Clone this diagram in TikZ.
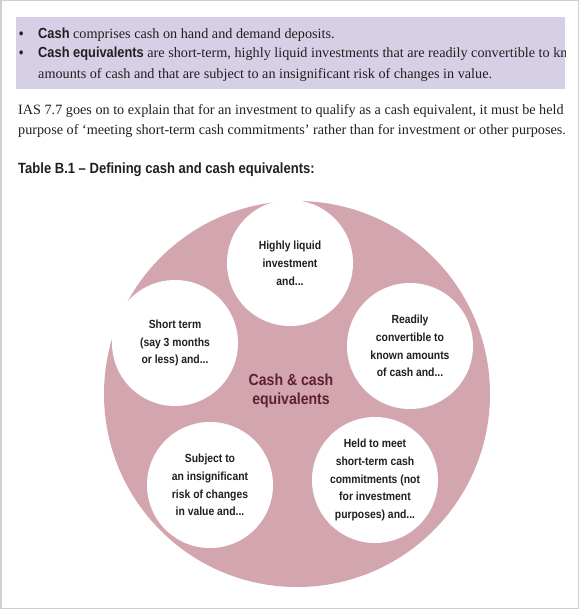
\documentclass[tikz,border=0pt]{standalone}
\usepackage{fontspec}
\setmainfont{Liberation Serif}
\newfontfamily\cond[FakeStretch=0.88]{Liberation Sans}
\definecolor{boxlav}{RGB}{213,208,230}
\definecolor{bigpink}{RGB}{211,166,175}
\definecolor{maroon}{RGB}{92,32,50}
\definecolor{framegray}{RGB}{208,208,208}
\definecolor{txt}{RGB}{35,31,32}
\tikzset{
  bodytext/.style={anchor=base west, inner sep=0pt, text=txt, font=\fontsize{14.2}{16}\selectfont},
  bulletmark/.style={anchor=base west, inner sep=0pt, text=txt, font=\cond\bfseries\fontsize{14}{16}\selectfont},
  smallcirc/.style={circle, fill=white, minimum size=126pt, inner sep=0pt, align=center, text=txt,
    font=\cond\bfseries\fontsize{11.8}{17.8}\selectfont},
}
\begin{document}
\begin{tikzpicture}[x=1pt,y=-1pt]
\useasboundingbox (0,0) rectangle (580,610);
\fill[white] (0,0) rectangle (580,610);
\draw[framegray, line width=1.5pt] (0.75,0.75) rectangle (578.25,608.25);
% lavender box
\fill[boxlav] (16,17) rectangle (565,89);
\begin{scope}
\clip (16,17) rectangle (565,89);
\node[bulletmark] (b1) at (19,38) {\textbullet};
\node[bodytext] (t1) at (38,38) {{\cond\bfseries\fontsize{14.6}{16}\selectfont Cash} comprises cash on hand and demand deposits.};
\node[bulletmark] (b2) at (19,58) {\textbullet};
\node[bodytext] (t2) at (38,58) {{\cond\bfseries\fontsize{14.6}{16}\selectfont Cash equivalents} are short-term, highly liquid investments that are readily convertible to known};
\node[bodytext] (t3) at (38,78) {amounts of cash and that are subject to an insignificant risk of changes in value.};
\end{scope}
\begin{scope}
\clip (1.5,1.5) rectangle (577.5,607.5);
\node[bodytext] (p1) at (18,114) {IAS 7.7 goes on to explain that for an investment to qualify as a cash equivalent, it must be held};
\node[bodytext] (p2) at (18,134) {purpose of ‘meeting short-term cash commitments’ rather than for investment or other purposes.};
\end{scope}
\node[anchor=base west, inner sep=0pt, text=txt, font=\cond\bfseries\fontsize{14.8}{16}\selectfont] (title) at (18,173) {Table B.1 – Defining cash and cash equivalents:};
% big circle
\node[circle, fill=bigpink, minimum size=386pt, inner sep=0pt] (big) at (297,394) {};
\node[smallcirc] (c1) at (290,263) {Highly liquid\\investment\\and...};
\node[smallcirc] (c2) at (175,343) {Short term\\(say 3 months\\or less) and...};
\node[smallcirc] (c3) at (410,346) {Readily\\convertible to\\known amounts\\of cash and...};
\node[smallcirc] (c4) at (210,485) {Subject to\\an insignificant\\risk of changes\\in value and...};
\node[smallcirc] (c5) at (375,480) {Held to meet\\short-term cash\\commitments (not\\for investment\\purposes) and...};
\node[align=center, text=maroon, inner sep=0pt, font=\cond\bfseries\fontsize{16}{19}\selectfont] (centre) at (291,391) {Cash \& cash\\equivalents};
\end{tikzpicture}
\end{document}
